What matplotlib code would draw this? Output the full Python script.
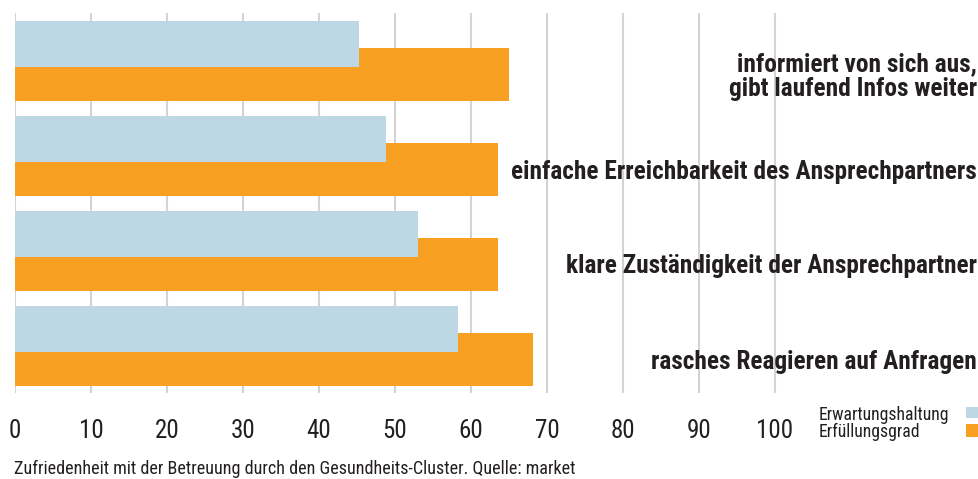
import matplotlib
matplotlib.use("Agg")
import matplotlib.pyplot as plt
from matplotlib import font_manager as fm
from matplotlib.patches import Rectangle

categories = ["informiert von sich aus,\ngibt laufend Infos weiter",
              "einfache Erreichbarkeit des Ansprechpartners",
              "klare Zuständigkeit der Ansprechpartner",
              "rasches Reagieren auf Anfragen"]
erwartung = [45.3, 48.8, 53.0, 58.3]
erfuellung = [65.0, 63.5, 63.6, 68.2]
xticks = [0, 10, 20, 30, 40, 50, 60, 70, 80, 90, 100]
series_names = ["Erwartungshaltung", "Erfüllungsgrad"]
caption = "Zufriedenheit mit der Betreuung durch den Gesundheits-Cluster. Quelle: market"

BLUE = "#BDD8E4"
ORANGE = "#F8A022"
TXT = "#231F20"
GRID = "#D3D3D3"

names = {f.name for f in fm.fontManager.ttflist}
fam = "DejaVu Sans"
for cand in ["Liberation Sans Narrow", "DejaVu Sans Condensed", "Roboto Condensed", "Open Sans Condensed", "Liberation Sans"]:
    if cand in names:
        fam = cand
        break
plt.rcParams["font.family"] = [fam, "DejaVu Sans"]

W, H = 979, 479
fig = plt.figure(figsize=(W / 100, H / 100), dpi=100)
x0, x1 = 15, 979
y_top, y_bot = 13, 393
ax = fig.add_axes([x0 / W, 1 - y_bot / H, (x1 - x0) / W, (y_bot - y_top) / H])
px_per_unit = 7.6
ax.set_xlim(0, (x1 - x0) / px_per_unit)
period = 95.0
ax.set_ylim((y_bot - 61) / period, (y_top - 61) / period)

for t in xticks:
    ax.axvline(t, color=GRID, lw=1.5, zorder=0)

pos = list(range(len(categories)))
ax.barh([p + 13.5 / period for p in pos], erfuellung, height=53 / period,
        color=ORANGE, zorder=2, linewidth=0)
ax.barh([p - 17 / period for p in pos], erwartung, height=46 / period,
        color=BLUE, zorder=3, linewidth=0)

for s in ax.spines.values():
    s.set_visible(False)
ax.set_yticks([])
ax.set_xticks(xticks)
ax.set_xticklabels([str(t) for t in xticks], fontsize=19, color=TXT)
ax.tick_params(axis="x", length=0, pad=19)

labels = []
for p, c in zip(pos, categories):
    t = ax.annotate(c, xy=(0.998, p + 15.5 / period), xycoords=("axes fraction", "data"),
                    ha="right", va="center", fontsize=15, fontweight="bold",
                    color=TXT, linespacing=1.05, zorder=5)
    labels.append(t)

cap = fig.text(14 / W, 1 - 474.3 / H, caption, ha="left", va="baseline", fontsize=12, color=TXT)

# legend: text on the left, colour square on the right
leg_colors = [BLUE, ORANGE]
leg_base = [420.0, 436.7]
leg_sq = [(406.7, 418.3), (424.3, 436.7)]
leg_texts = []
for name, col, yb, (s0, s1) in zip(series_names, leg_colors, leg_base, leg_sq):
    leg_texts.append(fig.text(819 / W, 1 - yb / H, name, ha="left", va="baseline",
                              fontsize=12, color=TXT))
    fig.patches.append(Rectangle((966 / W, 1 - s1 / H), 13 / W, (s1 - s0) / H,
                                 transform=fig.transFigure, facecolor=col,
                                 edgecolor="none"))

# fit font sizes to measured widths in the reference
fig.canvas.draw()
r = fig.canvas.get_renderer()
def fit(textobj, target):
    w = textobj.get_window_extent(r).width
    textobj.set_fontsize(textobj.get_fontsize() * target / w)

lab_w = labels[1].get_window_extent(r).width
for t in labels:
    t.set_fontsize(t.get_fontsize() * 467 / lab_w)
fit(cap, 562)
tl = ax.get_xticklabels()
w100 = tl[-1].get_window_extent(r).width
for t in tl:
    t.set_fontsize(t.get_fontsize() * 37 / w100)
lw = leg_texts[0].get_window_extent(r).width
for t in leg_texts:
    t.set_fontsize(t.get_fontsize() * 130 / lw)

fig.savefig("out.png", dpi=100)
